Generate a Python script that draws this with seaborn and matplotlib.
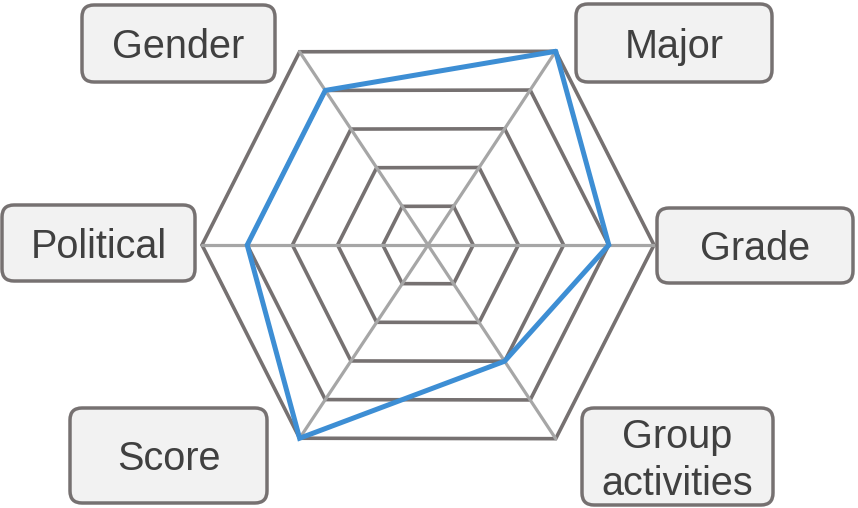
import numpy as np
import pandas as pd
import matplotlib
matplotlib.use("Agg")
import matplotlib.pyplot as plt
from matplotlib.patches import FancyBboxPatch
import seaborn as sns

# Radar data (levels out of 5)
categories = ["Major", "Grade", "Group\nactivities", "Score", "Political", "Gender"]
levels = [5, 4, 3, 5, 4, 4]
n_rings = 5

# Spoke geometry (degrees, pixel radius at full level) - the hexagon is slightly wide
axis_angles = [56.6, 0.0, -56.6, -123.6, 180.0, 123.6]
axis_radius = [232, 226, 232, 232, 226, 232]
center = (428, 245)

# Label boxes (x0, y0, x1, y1) in pixels
label_boxes = [
    (576, 4, 772, 82),
    (657, 208, 853, 283),
    (582, 408, 773, 505),
    (70, 408, 267, 503),
    (2, 205, 195, 281),
    (82, 5, 275, 82),
]

RING_COLOR = "#767171"
SPOKE_COLOR = "#a6a6a6"
LINE_COLOR = "#3d8ed4"
BOX_FILL = "#f2f2f2"
TEXT_COLOR = "#404040"

sns.set_theme(style="white")
plt.rcParams["font.family"] = ["Liberation Sans", "DejaVu Sans"]


def to_xy(level, i):
    """Convert a level on spoke i to pixel coordinates."""
    ang = np.deg2rad(axis_angles[i])
    r = axis_radius[i] * level / n_rings
    return center[0] + r * np.cos(ang), center[1] - r * np.sin(ang)


fig = plt.figure(figsize=(8.58, 5.08), dpi=100)
ax = fig.add_axes([0, 0, 1, 1])
ax.set_xlim(0, 858)
ax.set_ylim(508, 0)
ax.axis("off")

# Rings
for k in range(1, n_rings + 1):
    pts = [to_xy(k, i) for i in range(len(categories))]
    pts.append(pts[0])
    xs, ys = zip(*pts)
    ax.plot(xs, ys, color=RING_COLOR, lw=2.6, solid_joinstyle="miter", zorder=1)

# Spokes
for i in range(len(categories)):
    x1, y1 = to_xy(n_rings, i)
    ax.plot([center[0], x1], [center[1], y1], color=SPOKE_COLOR, lw=2.3, zorder=2)

# Data polygon (closed)
pts = [to_xy(v, i) for i, v in enumerate(levels)]
pts.append(pts[0])
df = pd.DataFrame(pts, columns=["x", "y"])
sns.lineplot(data=df, x="x", y="y", sort=False, estimator=None,
             color=LINE_COLOR, lw=3.6, ax=ax, zorder=3)
ax.lines[-1].set_solid_joinstyle("miter")

# Label boxes
for label, (x0, y0, x1, y1) in zip(categories, label_boxes):
    box = FancyBboxPatch((x0 + 12, y0 + 12), (x1 - x0) - 24, (y1 - y0) - 24,
                         boxstyle="round,pad=12", fc=BOX_FILL, ec=RING_COLOR,
                         lw=2.5, zorder=4)
    ax.add_patch(box)
    ax.text((x0 + x1) / 2, (y0 + y1) / 2 + 4, label, ha="center", va="center",
            fontsize=28.5, color=TEXT_COLOR, linespacing=1.3, zorder=5)

ax.set_xlabel("")
ax.set_ylabel("")
fig.savefig("out.png", dpi=100)
